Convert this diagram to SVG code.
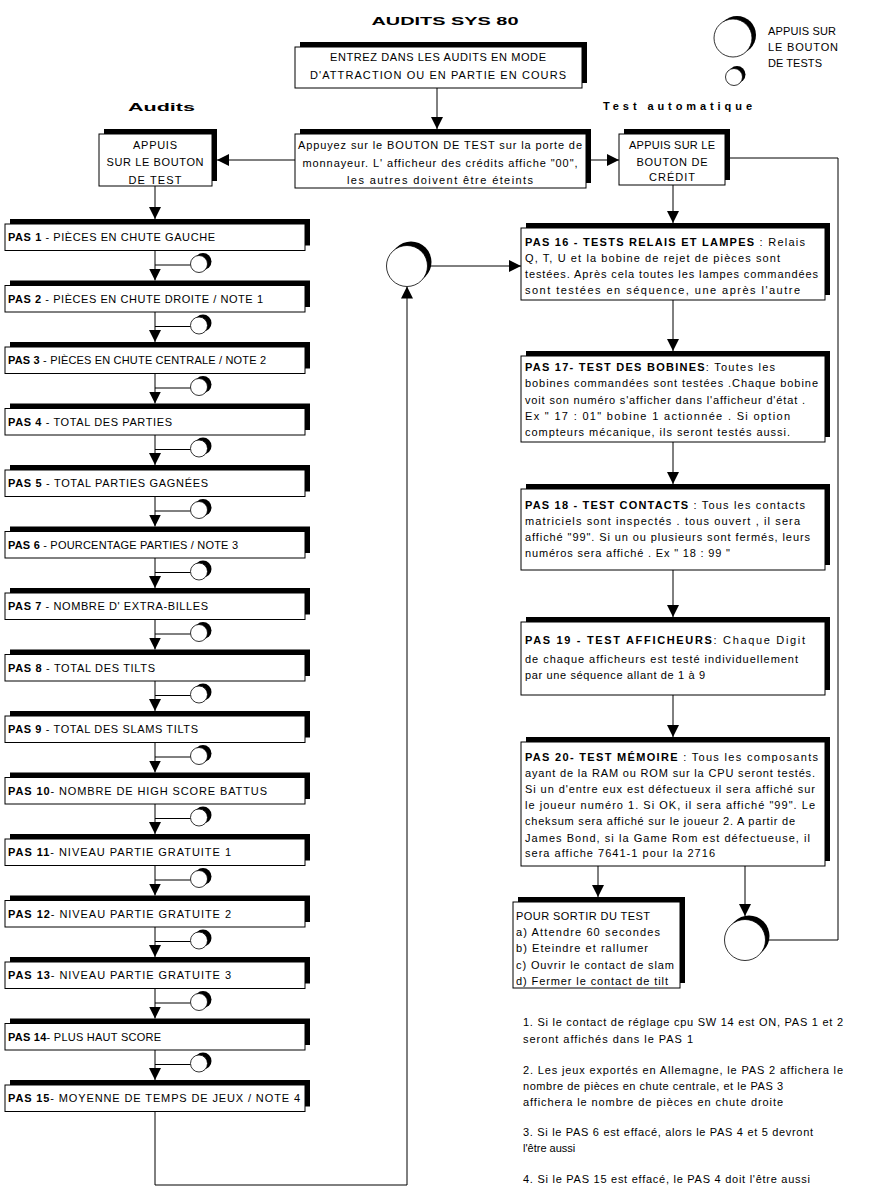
<svg xmlns="http://www.w3.org/2000/svg" width="873" height="1195" viewBox="0 0 873 1195">
<style>
.bx{fill:#fff;stroke:#000;stroke-width:1}
.sh{fill:#000}
.t{font-family:"Liberation Sans",Arial,sans-serif;font-size:11px;fill:#000}
.c{text-anchor:middle}
.b{font-weight:bold}
.ln{stroke:#000;stroke-width:1;fill:none}
.ca{stroke:#000;stroke-width:1;fill:none;marker-end:url(#ah)}
.cw{fill:#fff;stroke:#000;stroke-width:0.8}
</style>
<defs>
<marker id="ah" markerUnits="userSpaceOnUse" markerWidth="12" markerHeight="12" refX="12" refY="6" orient="auto"><path d="M0,0 L12,6 L0,12 z" fill="#000"/></marker>
</defs>
<rect width="873" height="1195" fill="#fff"/>

<text class="t b c" x="445" y="25" font-size="20" textLength="147" lengthAdjust="spacingAndGlyphs">AUDITS SYS 80</text>
<text class="t b" x="128" y="111" font-size="19" textLength="67" lengthAdjust="spacingAndGlyphs">Audits</text>
<text class="t b" x="603" y="110" font-size="14" textLength="149">Test automatique</text>

<g id="legend">
<circle class="sh" cx="737" cy="35" r="19"/><circle class="cw" cx="733" cy="38" r="19"/>
<circle class="sh" cx="737" cy="74.5" r="8.5"/><circle class="cw" cx="734" cy="77" r="8.5"/>
<text class="t" x="768" y="35" font-size="10" textLength="68">APPUIS SUR</text>
<text class="t" x="768" y="51" font-size="10" textLength="70">LE BOUTON</text>
<text class="t" x="768" y="67" font-size="10" textLength="54">DE TESTS</text>
</g>

<g id="connectors">
<line class="ca" x1="437" y1="88" x2="437" y2="129"/>
<line class="ca" x1="295" y1="160" x2="217" y2="160"/>
<line class="ca" x1="591" y1="160" x2="619" y2="160"/>
<line class="ca" x1="155" y1="186" x2="155" y2="219"/>
<line class="ca" x1="673" y1="185" x2="673" y2="223"/>
<line class="ca" x1="673" y1="300" x2="673" y2="351"/>
<line class="ca" x1="673" y1="442" x2="673" y2="484"/>
<line class="ca" x1="673" y1="570" x2="673" y2="617"/>
<line class="ca" x1="673" y1="695" x2="673" y2="737"/>
<line class="ca" x1="598" y1="866" x2="598" y2="897"/>
<line class="ca" x1="745" y1="866" x2="745" y2="916"/>
<polyline class="ln" points="765.5,940 838,940 838,158 730,158"/>
<line class="ca" x1="427.5" y1="266" x2="521" y2="266"/>
<polyline class="ca" points="155,1111 155,1185 407,1185 407,286.5"/>
<line class="ca" x1="155" y1="250" x2="155" y2="280.5"/>
<line class="ca" x1="155" y1="311.5" x2="155" y2="342"/>
<line class="ca" x1="155" y1="373" x2="155" y2="403.5"/>
<line class="ca" x1="155" y1="434.5" x2="155" y2="465"/>
<line class="ca" x1="155" y1="496" x2="155" y2="526.5"/>
<line class="ca" x1="155" y1="557.5" x2="155" y2="588"/>
<line class="ca" x1="155" y1="619" x2="155" y2="649.5"/>
<line class="ca" x1="155" y1="680.5" x2="155" y2="711"/>
<line class="ca" x1="155" y1="742" x2="155" y2="772.5"/>
<line class="ca" x1="155" y1="803.5" x2="155" y2="834"/>
<line class="ca" x1="155" y1="865" x2="155" y2="895.5"/>
<line class="ca" x1="155" y1="926.5" x2="155" y2="957"/>
<line class="ca" x1="155" y1="988" x2="155" y2="1018.5"/>
<line class="ca" x1="155" y1="1049.5" x2="155" y2="1080"/>
</g>

<g id="stepButtons">
<g transform="translate(0,0)"><line class="ln" x1="155" y1="265" x2="190.5" y2="265"/><circle class="sh" cx="203" cy="261.5" r="8.5"/><circle class="cw" cx="199" cy="264" r="8.5"/></g>
<g transform="translate(0,61.5)"><line class="ln" x1="155" y1="265" x2="190.5" y2="265"/><circle class="sh" cx="203" cy="261.5" r="8.5"/><circle class="cw" cx="199" cy="264" r="8.5"/></g>
<g transform="translate(0,123)"><line class="ln" x1="155" y1="265" x2="190.5" y2="265"/><circle class="sh" cx="203" cy="261.5" r="8.5"/><circle class="cw" cx="199" cy="264" r="8.5"/></g>
<g transform="translate(0,184.5)"><line class="ln" x1="155" y1="265" x2="190.5" y2="265"/><circle class="sh" cx="203" cy="261.5" r="8.5"/><circle class="cw" cx="199" cy="264" r="8.5"/></g>
<g transform="translate(0,246)"><line class="ln" x1="155" y1="265" x2="190.5" y2="265"/><circle class="sh" cx="203" cy="261.5" r="8.5"/><circle class="cw" cx="199" cy="264" r="8.5"/></g>
<g transform="translate(0,307.5)"><line class="ln" x1="155" y1="265" x2="190.5" y2="265"/><circle class="sh" cx="203" cy="261.5" r="8.5"/><circle class="cw" cx="199" cy="264" r="8.5"/></g>
<g transform="translate(0,369)"><line class="ln" x1="155" y1="265" x2="190.5" y2="265"/><circle class="sh" cx="203" cy="261.5" r="8.5"/><circle class="cw" cx="199" cy="264" r="8.5"/></g>
<g transform="translate(0,430.5)"><line class="ln" x1="155" y1="265" x2="190.5" y2="265"/><circle class="sh" cx="203" cy="261.5" r="8.5"/><circle class="cw" cx="199" cy="264" r="8.5"/></g>
<g transform="translate(0,492)"><line class="ln" x1="155" y1="265" x2="190.5" y2="265"/><circle class="sh" cx="203" cy="261.5" r="8.5"/><circle class="cw" cx="199" cy="264" r="8.5"/></g>
<g transform="translate(0,553.5)"><line class="ln" x1="155" y1="265" x2="190.5" y2="265"/><circle class="sh" cx="203" cy="261.5" r="8.5"/><circle class="cw" cx="199" cy="264" r="8.5"/></g>
<g transform="translate(0,615)"><line class="ln" x1="155" y1="265" x2="190.5" y2="265"/><circle class="sh" cx="203" cy="261.5" r="8.5"/><circle class="cw" cx="199" cy="264" r="8.5"/></g>
<g transform="translate(0,676.5)"><line class="ln" x1="155" y1="265" x2="190.5" y2="265"/><circle class="sh" cx="203" cy="261.5" r="8.5"/><circle class="cw" cx="199" cy="264" r="8.5"/></g>
<g transform="translate(0,738)"><line class="ln" x1="155" y1="265" x2="190.5" y2="265"/><circle class="sh" cx="203" cy="261.5" r="8.5"/><circle class="cw" cx="199" cy="264" r="8.5"/></g>
<g transform="translate(0,799.5)"><line class="ln" x1="155" y1="265" x2="190.5" y2="265"/><circle class="sh" cx="203" cy="261.5" r="8.5"/><circle class="cw" cx="199" cy="264" r="8.5"/></g>
</g>

<g id="circleLeft"><circle class="sh" cx="411" cy="262" r="20.5"/><circle class="cw" cx="407" cy="266" r="20.5"/></g>
<g id="circleRight"><circle class="sh" cx="749" cy="936" r="20.5"/><circle class="cw" cx="745" cy="940" r="20.5"/></g>

<g id="entrez"><rect class="sh" x="300" y="42" width="287" height="41"/><rect class="bx" x="295" y="47" width="287" height="41"/>
<text class="t c" x="438" y="61" textLength="216">ENTREZ DANS LES AUDITS EN MODE</text>
<text class="t c" x="438" y="79" textLength="256">D'ATTRACTION OU EN PARTIE EN COURS</text></g>

<g id="appuyez"><rect class="sh" x="300" y="129" width="291" height="54"/><rect class="bx" x="295" y="134" width="291" height="54"/>
<text class="t c" x="440" y="149" textLength="284">Appuyez sur le BOUTON DE TEST sur la porte de</text>
<text class="t c" x="440" y="167" textLength="275">monnayeur. L' afficheur des crédits affiche "00",</text>
<text class="t c" x="440" y="184" textLength="186">les autres doivent être éteints</text></g>

<g id="appuisTest"><rect class="sh" x="104" y="129" width="113" height="52"/><rect class="bx" x="99" y="134" width="113" height="52"/>
<text class="t c" x="155" y="149" textLength="44">APPUIS</text>
<text class="t c" x="155" y="166" textLength="97">SUR LE BOUTON</text>
<text class="t c" x="155" y="184" textLength="53">DE TEST</text></g>

<g id="appuisCredit"><rect class="sh" x="624" y="129" width="106" height="51"/><rect class="bx" x="619" y="134" width="106" height="51"/>
<text class="t c" x="672" y="149" textLength="86">APPUIS SUR LE</text>
<text class="t c" x="672" y="166" textLength="71">BOUTON DE</text>
<text class="t c" x="672" y="181" textLength="46">CRÉDIT</text></g>

<g id="pas1"><rect class="sh" x="10" y="219" width="300" height="26.5"/><rect class="bx" x="5" y="224" width="300" height="26.5"/><text class="t" x="8" y="241" textLength="207"><tspan class="b">PAS 1</tspan> - PIÈCES EN CHUTE GAUCHE</text></g>
<g id="pas2"><rect class="sh" x="10" y="280.5" width="300" height="26.5"/><rect class="bx" x="5" y="285.5" width="300" height="26.5"/><text class="t" x="8" y="302.5" textLength="255"><tspan class="b">PAS 2</tspan> - PIÈCES EN CHUTE DROITE /  NOTE 1</text></g>
<g id="pas3"><rect class="sh" x="10" y="342" width="300" height="26.5"/><rect class="bx" x="5" y="347" width="300" height="26.5"/><text class="t" x="8" y="364" textLength="258"><tspan class="b">PAS 3</tspan> - PIÈCES EN CHUTE CENTRALE / NOTE 2</text></g>
<g id="pas4"><rect class="sh" x="10" y="403.5" width="300" height="26.5"/><rect class="bx" x="5" y="408.5" width="300" height="26.5"/><text class="t" x="8" y="425.5" textLength="164"><tspan class="b">PAS 4</tspan> - TOTAL DES PARTIES</text></g>
<g id="pas5"><rect class="sh" x="10" y="465" width="300" height="26.5"/><rect class="bx" x="5" y="470" width="300" height="26.5"/><text class="t" x="8" y="487" textLength="200"><tspan class="b">PAS 5</tspan> - TOTAL PARTIES GAGNÉES</text></g>
<g id="pas6"><rect class="sh" x="10" y="526.5" width="300" height="26.5"/><rect class="bx" x="5" y="531.5" width="300" height="26.5"/><text class="t" x="8" y="548.5" textLength="230"><tspan class="b">PAS 6</tspan> - POURCENTAGE PARTIES  / NOTE 3</text></g>
<g id="pas7"><rect class="sh" x="10" y="588" width="300" height="26.5"/><rect class="bx" x="5" y="593" width="300" height="26.5"/><text class="t" x="8" y="610" textLength="200"><tspan class="b">PAS 7</tspan> - NOMBRE D' EXTRA-BILLES</text></g>
<g id="pas8"><rect class="sh" x="10" y="649.5" width="300" height="26.5"/><rect class="bx" x="5" y="654.5" width="300" height="26.5"/><text class="t" x="8" y="671.5" textLength="147"><tspan class="b">PAS 8</tspan> - TOTAL DES TILTS</text></g>
<g id="pas9"><rect class="sh" x="10" y="711" width="300" height="26.5"/><rect class="bx" x="5" y="716" width="300" height="26.5"/><text class="t" x="8" y="733" textLength="190"><tspan class="b">PAS 9</tspan> - TOTAL DES SLAMS TILTS</text></g>
<g id="pas10"><rect class="sh" x="10" y="772.5" width="300" height="26.5"/><rect class="bx" x="5" y="777.5" width="300" height="26.5"/><text class="t" x="8" y="794.5" textLength="259"><tspan class="b">PAS 10</tspan>- NOMBRE DE HIGH SCORE BATTUS</text></g>
<g id="pas11"><rect class="sh" x="10" y="834" width="300" height="26.5"/><rect class="bx" x="5" y="839" width="300" height="26.5"/><text class="t" x="8" y="856" textLength="223"><tspan class="b">PAS 11</tspan>- NIVEAU PARTIE GRATUITE 1</text></g>
<g id="pas12"><rect class="sh" x="10" y="895.5" width="300" height="26.5"/><rect class="bx" x="5" y="900.5" width="300" height="26.5"/><text class="t" x="8" y="917.5" textLength="223"><tspan class="b">PAS 12</tspan>- NIVEAU PARTIE GRATUITE 2</text></g>
<g id="pas13"><rect class="sh" x="10" y="957" width="300" height="26.5"/><rect class="bx" x="5" y="962" width="300" height="26.5"/><text class="t" x="8" y="979" textLength="223"><tspan class="b">PAS 13</tspan>- NIVEAU PARTIE GRATUITE 3</text></g>
<g id="pas14"><rect class="sh" x="10" y="1018.5" width="300" height="26.5"/><rect class="bx" x="5" y="1023.5" width="300" height="26.5"/><text class="t" x="8" y="1040.5" textLength="153"><tspan class="b">PAS 14</tspan>- PLUS HAUT SCORE</text></g>
<g id="pas15"><rect class="sh" x="10" y="1080" width="300" height="26.5"/><rect class="bx" x="5" y="1085" width="300" height="26.5"/><text class="t" x="8" y="1102" textLength="292"><tspan class="b">PAS 15</tspan>- MOYENNE DE TEMPS DE JEUX /  NOTE 4</text></g>

<g id="pas16"><rect class="sh" x="526" y="223" width="304" height="72"/><rect class="bx" x="521" y="228" width="304" height="72"/>
<text class="t" x="525" y="246" textLength="280"><tspan class="b">PAS 16  - TESTS RELAIS ET LAMPES</tspan> : Relais</text>
<text class="t" x="525" y="262" textLength="255">Q, T, U et la bobine de rejet de pièces sont</text>
<text class="t" x="525" y="278" textLength="293">testées. Après cela toutes les lampes commandées</text>
<text class="t" x="525" y="294" textLength="275">sont testées en  séquence, une après l'autre</text></g>

<g id="pas17"><rect class="sh" x="526" y="351" width="304" height="86"/><rect class="bx" x="521" y="356" width="304" height="86"/>
<text class="t" x="525" y="371" textLength="250"><tspan class="b">PAS 17- TEST DES BOBINES</tspan>: Toutes les</text>
<text class="t" x="525" y="387" textLength="293">bobines commandées sont testées .Chaque bobine</text>
<text class="t" x="525" y="404" textLength="280">voit son numéro s'afficher dans l'afficheur d'état .</text>
<text class="t" x="525" y="420" textLength="265">Ex " 17 : 01" bobine 1 actionnée . Si option</text>
<text class="t" x="525" y="436" textLength="265">compteurs mécanique, ils seront testés aussi.</text></g>

<g id="pas18"><rect class="sh" x="526" y="484" width="304" height="81"/><rect class="bx" x="521" y="489" width="304" height="81"/>
<text class="t" x="525" y="509" textLength="280"><tspan class="b">PAS 18 - TEST CONTACTS</tspan> : Tous les contacts</text>
<text class="t" x="525" y="525" textLength="275">matriciels sont inspectés .  tous ouvert , il sera</text>
<text class="t" x="525" y="541" textLength="285">affiché "99". Si un ou plusieurs sont fermés, leurs</text>
<text class="t" x="525" y="557" textLength="205">numéros sera affiché . Ex " 18 : 99 "</text></g>

<g id="pas19"><rect class="sh" x="526" y="617" width="304" height="73"/><rect class="bx" x="521" y="622" width="304" height="73"/>
<text class="t" x="525" y="644" textLength="280"><tspan class="b">PAS 19 - TEST AFFICHEURS</tspan>: Chaque Digit</text>
<text class="t" x="525" y="663" textLength="273">de chaque afficheurs est testé individuellement</text>
<text class="t" x="525" y="679" textLength="180">par une séquence allant de 1 à 9</text></g>

<g id="pas20"><rect class="sh" x="526" y="737" width="304" height="124"/><rect class="bx" x="521" y="742" width="304" height="124"/>
<text class="t" x="525" y="761" textLength="293"><tspan class="b">PAS 20- TEST MÉMOIRE</tspan> : Tous les composants</text>
<text class="t" x="525" y="777" textLength="290">ayant de la RAM ou ROM sur la CPU seront testés.</text>
<text class="t" x="525" y="793" textLength="290">Si un d'entre eux est défectueux il sera affiché sur</text>
<text class="t" x="525" y="809" textLength="290">le joueur numéro 1. Si OK, il sera affiché "99". Le</text>
<text class="t" x="525" y="825" textLength="270">cheksum sera affiché sur le joueur 2. A partir de</text>
<text class="t" x="525" y="842" textLength="285">James Bond, si la Game Rom est défectueuse, il</text>
<text class="t" x="525" y="857" textLength="190">sera affiche 7641-1 pour la 2716</text></g>

<g id="sortir"><rect class="sh" x="518" y="897" width="167" height="86"/><rect class="bx" x="513" y="902" width="167" height="86"/>
<text class="t" x="516" y="920" textLength="134">POUR SORTIR DU TEST</text>
<text class="t" x="516" y="936" textLength="144">a) Attendre 60 secondes</text>
<text class="t" x="516" y="952" textLength="132">b) Eteindre et rallumer</text>
<text class="t" x="516" y="969" textLength="158">c) Ouvrir le contact de slam</text>
<text class="t" x="516" y="985" textLength="152">d) Fermer le contact de tilt</text></g>

<g id="notes">
<text class="t" x="523" y="1026" textLength="320">1. Si le contact de réglage cpu SW 14  est ON, PAS 1 et 2</text>
<text class="t" x="523" y="1043" textLength="170">seront affichés dans le PAS 1</text>
<text class="t" x="523" y="1074" textLength="320">2. Les jeux exportés en Allemagne, le PAS 2 affichera le</text>
<text class="t" x="523" y="1090" textLength="260">nombre de pièces en chute centrale, et le PAS 3</text>
<text class="t" x="523" y="1106" textLength="260">affichera le nombre de pièces en chute droite</text>
<text class="t" x="523" y="1136" textLength="290">3. Si le PAS 6 est effacé, alors le PAS 4 et 5 devront</text>
<text class="t" x="523" y="1152">l'être aussi</text>
<text class="t" x="523" y="1183" textLength="287">4. Si le PAS 15 est effacé, le PAS 4 doit l'être aussi</text>
</g>
</svg>
